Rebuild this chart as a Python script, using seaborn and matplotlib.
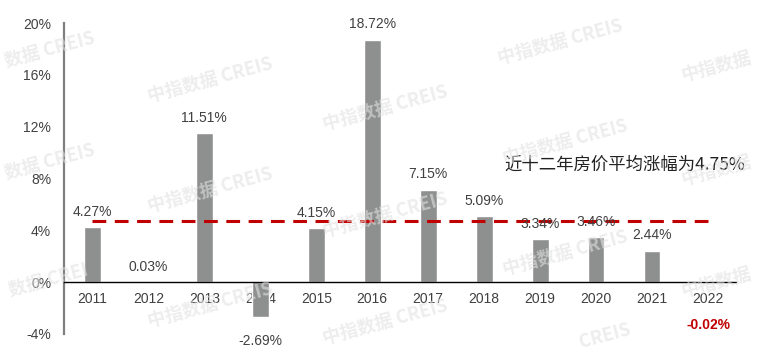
import matplotlib
matplotlib.use("Agg")
import matplotlib.pyplot as plt
import seaborn as sns
import pandas as pd

# 数据
years = ['2011', '2012', '2013', '2014', '2015', '2016',
         '2017', '2018', '2019', '2020', '2021', '2022']
growth = [4.27, 0.03, 11.51, -2.69, 4.15, 18.72, 7.15, 5.09, 3.34, 3.46, 2.44, -0.02]
avg_growth = 4.75
avg_label = '近十二年房价平均涨幅为4.75%'
yticks = [-4, 0, 4, 8, 12, 16, 20]

df = pd.DataFrame({'year': years, 'growth': growth})

sns.set_style('white')
plt.rcParams['font.family'] = ['Liberation Sans', 'Noto Sans CJK SC', 'DejaVu Sans']

gray = '#8e908f'
red = '#c00000'
text_c = '#404040'
colors = {y: (red if y == '2022' else gray) for y in years}

fig = plt.figure(figsize=(7.58, 3.54), dpi=100)
ax = fig.add_axes([0.085, 0.0565, 0.886, 0.8785])

sns.barplot(data=df, x='year', y='growth', hue='year', palette=colors,
            width=0.3, legend=False, ax=ax, saturation=1)

# 平均线
ax.hlines(avg_growth, 0, len(years) - 1, colors=red, linewidth=2.2,
          linestyles=(0, (4.5, 2.8)), zorder=3)

# 数值标签
for i, v in enumerate(growth):
    if v >= 0:
        ax.annotate(f'{v:.2f}%', (i, v), xytext=(0, 11), textcoords='offset points',
                    ha='center', va='center', fontsize=10, color=text_c)
    elif i == len(years) - 1:
        ax.annotate(f'{v:.2f}%', (i, v), xytext=(0, -31), textcoords='offset points',
                    ha='center', va='center', fontsize=10, color=red, fontweight='bold')
    else:
        ax.annotate(f'{v:.2f}%', (i, v), xytext=(0, -17), textcoords='offset points',
                    ha='center', va='center', fontsize=10, color=text_c)

fig.text(0.983, 0.534, avg_label, ha='right', va='center', fontsize=12.5,
         color='#222222', family=['Noto Sans CJK SC', 'DejaVu Sans'])

ax.set_xlim(-0.5, len(years) - 0.5)
ax.set_ylim(-4, 20)
ax.set_yticks(yticks)
ax.set_yticklabels([f'{t}%' for t in yticks])
ax.set_xlabel('')
ax.set_ylabel('')

for s in ['top', 'right']:
    ax.spines[s].set_visible(False)
ax.spines['left'].set_color('#7f7f7f')
ax.spines['left'].set_linewidth(1.6)
ax.spines['bottom'].set_position(('data', 0))
ax.spines['bottom'].set_color('black')
ax.spines['bottom'].set_linewidth(1.0)

ax.tick_params(axis='y', direction='out', length=4.5, width=1.2, color='#7f7f7f',
               labelsize=10, labelcolor=text_c, pad=5)
ax.tick_params(axis='x', length=0, labelsize=10, labelcolor=text_c, pad=7)

# 水印（边缘处只画可见的部分）
wm_full = '中指数据 CREIS'
wm_marks = [(50, 50, '数据 CREIS'), (210, 80, wm_full), (385, 108, wm_full),
            (560, 42, wm_full), (716, 66, '中指数据'),
            (50, 162, '数据 CREIS'), (210, 190, wm_full), (385, 215, wm_full),
            (565, 142, wm_full), (716, 170, '中指数据'),
            (48, 280, '数据 CREI'), (210, 305, wm_full), (385, 322, wm_full),
            (565, 253, wm_full), (716, 282, '中指数据'), (605, 336, 'CREIS')]
for px, py, s in wm_marks:
    fig.text(px / 758, 1 - py / 354, s, ha='center', va='center',
             rotation=15, fontsize=13, fontweight='bold', color='#e2e2e2', alpha=0.6,
             family=['Noto Sans CJK SC', 'DejaVu Sans'], zorder=10)

fig.savefig('out.png', dpi=100)
